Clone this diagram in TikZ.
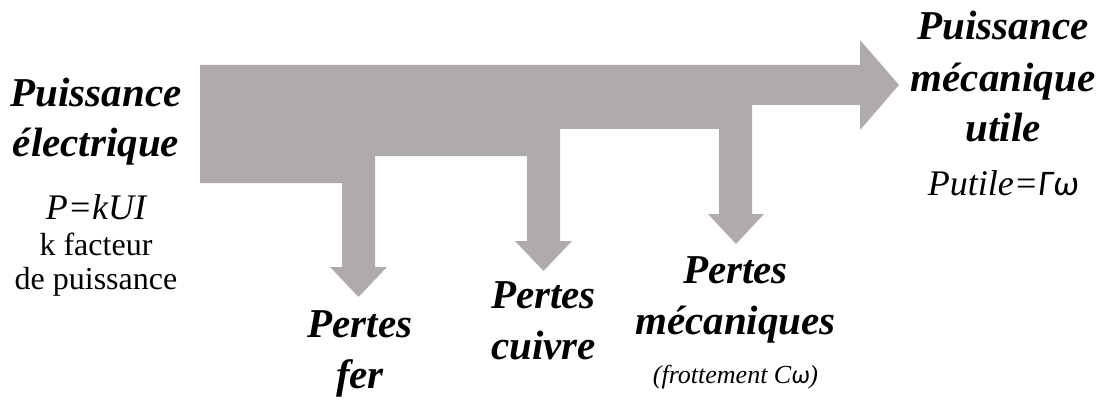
\documentclass[tikz,border=0pt]{standalone}
\usepackage{fontspec}
\setmainfont{Liberation Serif}
\newfontfamily\grec{Carlito}
\definecolor{flowgray}{RGB}{175,171,170}

\begin{document}
\begin{tikzpicture}[x=1pt, y=-1pt,
    every node/.style={inner sep=0pt, anchor=base},
    flow/.style={fill=flowgray, draw=none},
    titre/.style={font=\fontsize{41}{51}\selectfont\bfseries\itshape, align=center},
    formule/.style={font=\fontsize{36}{40}\selectfont\itshape},
    note/.style={font=\fontsize{32}{34}\selectfont, align=center},
    petit/.style={font=\fontsize{26}{30}\selectfont\itshape}]
    \useasboundingbox (0,0) rectangle (1105,401);

    % Main flow, one branch per loss
    \fill[flow] (200,65) -- (860,65) -- (860,40) -- (899,85) -- (860,130) -- (860,105)
        -- (752,105) -- (752,214) -- (764,214) -- (736,244) -- (708,214) -- (719,214)
        -- (719,129) -- (560,129) -- (560,241) -- (572,241) -- (543.5,271) -- (515,241) -- (527,241)
        -- (527,156) -- (375,156) -- (375,267) -- (387,267) -- (358.5,297) -- (330,267) -- (342,267)
        -- (342,183) -- (200,183) -- cycle;

    % Input (base = last line)
    \node[titre] (entree) at (96,157) {Puissance\\électrique};
    \node[formule] (pe) at (96,219) {P=kUI};
    \node[note] (k) at (96,289) {k facteur\\de puissance};

    % Output
    \node[titre] (sortie) at (1003,142) {Puissance\\mécanique\\utile};
    \node[formule] (pu) at (1003,195) {Putile={\grec Γω}};

    % Losses
    \node[titre] (fer) at (360,388) {Pertes\\fer};
    \node[titre] (cuivre) at (543.5,359) {Pertes\\cuivre};
    \node[titre] (meca) at (735.5,334) {Pertes\\mécaniques};
    \node[petit] (frott) at (735.5,383) {(frottement C{\grec ω})};
\end{tikzpicture}
\end{document}
